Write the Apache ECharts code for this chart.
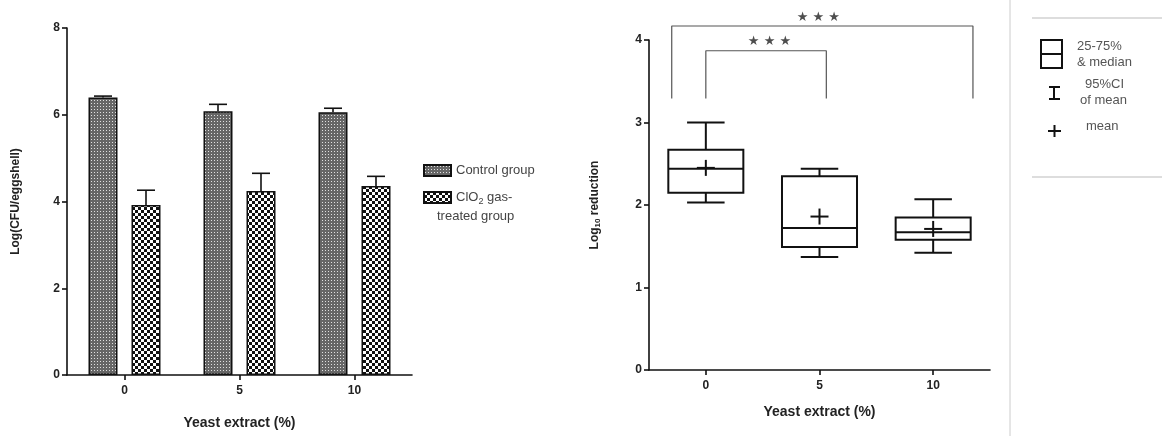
<!DOCTYPE html>
<html>
<head>
<meta charset="utf-8">
<script src="https://cdn.jsdelivr.net/npm/echarts@6/dist/echarts.min.js"></script>
<style>
  html, body { margin: 0; padding: 0; background: #fff; }
  #main { width: 1162px; height: 436px; }
</style>
</head>
<body>
<div id="main"></div>
<script>
// 数据 - 左图 (柱状 + 误差)
var categories = ['0', '5', '10'];
var controlMean = [6.40, 6.08, 6.06];
var controlUpper = [6.43, 6.24, 6.15];
var treatedMean = [3.92, 4.24, 4.36];
var treatedUpper = [4.26, 4.65, 4.58];
var leftTicks = [0, 2, 4, 6, 8];

// 数据 - 右图 (箱线)
var boxLow = [2.03, 1.37, 1.42];
var boxQ1 = [2.15, 1.49, 1.58];
var boxMedian = [2.44, 1.72, 1.67];
var boxQ3 = [2.67, 2.35, 1.85];
var boxHigh = [3.00, 2.44, 2.07];
var boxMean = [2.45, 1.86, 1.71];

// 显著性标注 (x 为类别序号)
var outerBracket = [[-0.30, 3.29], [-0.30, 4.17], [2.35, 4.17], [2.35, 3.29]];
var innerBracket = [[0.00, 3.29], [0.00, 3.87], [1.06, 3.87], [1.06, 3.29]];
var starMarks = [[0.99, 4.27], [0.56, 3.98]];

/*填充图案*/
function makePattern(kind) {
    var c = document.createElement('canvas');
    var ctx = c.getContext('2d');
    if (kind === 'fine') {
        c.width = 3; c.height = 3;
        ctx.fillStyle = '#666';
        ctx.fillRect(0, 0, 3, 3);
        ctx.fillStyle = '#e0e0e0';
        ctx.fillRect(1, 1, 1, 1);
    } else {
        c.width = 6; c.height = 6;
        ctx.fillStyle = '#111';
        ctx.fillRect(0, 0, 6, 6);
        ctx.fillStyle = '#fff';
        ctx.fillRect(0, 0, 3, 3);
        ctx.fillRect(3, 3, 3, 3);
    }
    return { image: c, repeat: 'repeat' };
}

var axisText = { color: '#222', fontWeight: 'bold', fontSize: 12, fontFamily: 'Liberation Sans' };
var axisLine = { onZero: false, lineStyle: { color: '#111', width: 1.6 } };

var barErr = [];
var treatErr = [];
for (var i = 0; i < categories.length; i++) {
    barErr.push([i, controlMean[i], controlUpper[i]]);
    treatErr.push([i, treatedMean[i], treatedUpper[i]]);
}
var boxData = [];
for (var j = 0; j < categories.length; j++) {
    boxData.push([j, boxLow[j], boxQ1[j], boxMedian[j], boxQ3[j], boxHigh[j], boxMean[j]]);
}

var barWidth = 29, barGapPx = 14;
function errRender(offset) {
    return function (params, api) {
        var base = api.coord([api.value(0), api.value(1)]);
        var top = api.coord([api.value(0), api.value(2)]);
        var x = base[0] + offset;
        var st = { stroke: '#111', lineWidth: 1.6 };
        return {
            type: 'group', children: [
                { type: 'line', shape: { x1: x, y1: base[1], x2: x, y2: top[1] }, style: st },
                { type: 'line', shape: { x1: x - 9, y1: top[1], x2: x + 9, y2: top[1] }, style: st }
            ]
        };
    };
}

function boxRender(params, api) {
    var idx = api.value(0);
    var bw = api.size([1, 0])[0] * 0.66;
    var cap = bw / 2;
    var pLow = api.coord([idx, api.value(1)]);
    var pQ1 = api.coord([idx, api.value(2)]);
    var pMed = api.coord([idx, api.value(3)]);
    var pQ3 = api.coord([idx, api.value(4)]);
    var pHigh = api.coord([idx, api.value(5)]);
    var pMean = api.coord([idx, api.value(6)]);
    var x = pQ1[0];
    var st = { stroke: '#111', lineWidth: 2, fill: null };
    return {
        type: 'group', children: [
            { type: 'rect', shape: { x: x - bw / 2, y: pQ3[1], width: bw, height: pQ1[1] - pQ3[1] }, style: { stroke: '#111', lineWidth: 2, fill: '#fff' } },
            { type: 'line', shape: { x1: x - bw / 2, y1: pMed[1], x2: x + bw / 2, y2: pMed[1] }, style: st },
            { type: 'line', shape: { x1: x, y1: pQ3[1], x2: x, y2: pHigh[1] }, style: st },
            { type: 'line', shape: { x1: x - cap / 2, y1: pHigh[1], x2: x + cap / 2, y2: pHigh[1] }, style: st },
            { type: 'line', shape: { x1: x, y1: pQ1[1], x2: x, y2: pLow[1] }, style: st },
            { type: 'line', shape: { x1: x - cap / 2, y1: pLow[1], x2: x + cap / 2, y2: pLow[1] }, style: st },
            { type: 'line', shape: { x1: x - 9, y1: pMean[1], x2: x + 9, y2: pMean[1] }, style: st },
            { type: 'line', shape: { x1: x, y1: pMean[1] - 8, x2: x, y2: pMean[1] + 8 }, style: st }
        ]
    };
}

var myChart = echarts.init(document.getElementById('main'));
var panelText = { fill: '#555', fontSize: 13, fontFamily: 'Liberation Sans' };
var tickStyle = { show: true, length: 5, lineStyle: { color: '#111', width: 1.6 } };

var option = {
    backgroundColor: '#fff',
    animation: false,
    grid: [
        { left: 67, top: 28, width: 345, height: 347 },
        { left: 649, top: 40, width: 341, height: 330 }
    ],
    legend: {
        orient: 'vertical', left: 418, top: 159,
        itemWidth: 27, itemHeight: 11, itemGap: 14,
        icon: 'rect',
        data: ['Control group', 'ClO2 gas-treated group'],
        formatter: function (name) {
            return name === 'Control group' ? name : 'ClO{sub|2} gas-';
        },
        textStyle: {
            color: '#444', fontSize: 13, fontFamily: 'Liberation Sans',
            rich: { sub: { fontSize: 9, verticalAlign: 'bottom', padding: [8, 0, 0, 0], color: '#444', fontFamily: 'Liberation Sans' } }
        }
    },
    xAxis: [
        {
            type: 'category', gridIndex: 0, data: categories,
            axisLine: axisLine, axisTick: Object.assign({ alignWithLabel: true }, tickStyle),
            axisLabel: Object.assign({ margin: 10 }, axisText),
            name: 'Yeast extract (%)', nameLocation: 'middle', nameGap: 41,
            nameTextStyle: { color: '#222', fontWeight: 'bold', fontSize: 14, fontFamily: 'Liberation Sans' }
        },
        {
            type: 'category', gridIndex: 1, data: categories,
            axisLine: axisLine, axisTick: Object.assign({ alignWithLabel: true }, tickStyle),
            axisLabel: Object.assign({ margin: 10 }, axisText),
            name: 'Yeast extract (%)', nameLocation: 'middle', nameGap: 35,
            nameTextStyle: { color: '#222', fontWeight: 'bold', fontSize: 14, fontFamily: 'Liberation Sans' }
        },
        { type: 'value', gridIndex: 1, min: -0.5, max: 2.5, show: false }
    ],
    yAxis: [
        {
            type: 'value', gridIndex: 0, min: 0, max: leftTicks[leftTicks.length - 1], interval: leftTicks[1] - leftTicks[0],
            axisLine: Object.assign({ show: true }, axisLine), axisTick: tickStyle,
            splitLine: { show: false }, axisLabel: Object.assign({ margin: 7 }, axisText),
            name: 'Log(CFU/eggshell)', nameLocation: 'middle', nameGap: 45,
            nameTextStyle: { color: '#222', fontWeight: 'bold', fontSize: 12, fontFamily: 'Liberation Sans' }
        },
        {
            type: 'value', gridIndex: 1, min: 0, max: 4, interval: 1,
            axisLine: Object.assign({ show: true }, axisLine), axisTick: tickStyle,
            splitLine: { show: false }, axisLabel: Object.assign({ margin: 7 }, axisText),
            name: 'Log{sub|10} reduction', nameLocation: 'middle', nameGap: 47,
            nameTextStyle: {
                color: '#222', fontWeight: 'bold', fontSize: 12, fontFamily: 'Liberation Sans',
                rich: { sub: { fontSize: 8, fontWeight: 'bold', color: '#222', verticalAlign: 'bottom', padding: [6, 0, 0, 0], fontFamily: 'Liberation Sans' } }
            }
        }
    ],
    series: [
        {
            name: 'Control group', type: 'bar', xAxisIndex: 0, yAxisIndex: 0,
            barWidth: barWidth, barGap: (barGapPx / barWidth * 100) + '%',
            itemStyle: { color: makePattern('fine'), borderColor: '#111', borderWidth: 1.5 },
            data: controlMean, z: 2
        },
        {
            name: 'ClO2 gas-treated group', type: 'bar', xAxisIndex: 0, yAxisIndex: 0,
            barWidth: barWidth,
            itemStyle: { color: makePattern('checker'), borderColor: '#111', borderWidth: 1.5 },
            data: treatedMean, z: 2
        },
        {
            type: 'custom', xAxisIndex: 0, yAxisIndex: 0, z: 3,
            renderItem: errRender(-(barWidth + barGapPx) / 2), data: barErr
        },
        {
            type: 'custom', xAxisIndex: 0, yAxisIndex: 0, z: 3,
            renderItem: errRender((barWidth + barGapPx) / 2), data: treatErr
        },
        {
            type: 'custom', xAxisIndex: 1, yAxisIndex: 1, z: 3,
            renderItem: boxRender, data: boxData
        },
        {
            type: 'line', xAxisIndex: 2, yAxisIndex: 1, data: outerBracket, clip: false,
            symbol: 'none', lineStyle: { color: '#555', width: 1.2 }
        },
        {
            type: 'line', xAxisIndex: 2, yAxisIndex: 1, data: innerBracket, clip: false,
            symbol: 'none', lineStyle: { color: '#555', width: 1.2 }
        },
        {
            type: 'scatter', xAxisIndex: 2, yAxisIndex: 1, data: starMarks, clip: false,
            symbolSize: 0,
            label: { show: true, formatter: '★ ★ ★', position: 'inside', color: '#222', fontSize: 13, fontFamily: 'DejaVu Sans' }
        }
    ],
    graphic: [
        { type: 'text', left: 437, top: 210, style: Object.assign({ text: 'treated group' }, panelText, { fill: '#444' }) },
        { type: 'line', shape: { x1: 1010, y1: 0, x2: 1010, y2: 436 }, style: { stroke: '#ccc', lineWidth: 1 } },
        { type: 'line', shape: { x1: 1032, y1: 18, x2: 1162, y2: 18 }, style: { stroke: '#bbb', lineWidth: 1 } },
        { type: 'line', shape: { x1: 1032, y1: 177, x2: 1162, y2: 177 }, style: { stroke: '#bbb', lineWidth: 1 } },
        { type: 'rect', shape: { x: 1041, y: 40, width: 21, height: 28 }, style: { stroke: '#111', lineWidth: 2, fill: '#fff' } },
        { type: 'line', shape: { x1: 1041, y1: 54, x2: 1062, y2: 54 }, style: { stroke: '#111', lineWidth: 2 } },
        { type: 'line', shape: { x1: 1054, y1: 87, x2: 1054, y2: 99 }, style: { stroke: '#111', lineWidth: 2 } },
        { type: 'line', shape: { x1: 1049, y1: 87, x2: 1060, y2: 87 }, style: { stroke: '#111', lineWidth: 2 } },
        { type: 'line', shape: { x1: 1049, y1: 99, x2: 1060, y2: 99 }, style: { stroke: '#111', lineWidth: 2 } },
        { type: 'line', shape: { x1: 1048, y1: 131, x2: 1061, y2: 131 }, style: { stroke: '#111', lineWidth: 2 } },
        { type: 'line', shape: { x1: 1054.5, y1: 125, x2: 1054.5, y2: 137 }, style: { stroke: '#111', lineWidth: 2 } },
        { type: 'text', left: 1077, top: 40, style: Object.assign({ text: '25-75%' }, panelText) },
        { type: 'text', left: 1077, top: 56, style: Object.assign({ text: '& median' }, panelText) },
        { type: 'text', left: 1085, top: 78, style: Object.assign({ text: '95%CI' }, panelText) },
        { type: 'text', left: 1080, top: 94, style: Object.assign({ text: 'of mean' }, panelText) },
        { type: 'text', left: 1086, top: 120, style: Object.assign({ text: 'mean' }, panelText) }
    ]
};

myChart.setOption(option);
</script>
</body>
</html>
